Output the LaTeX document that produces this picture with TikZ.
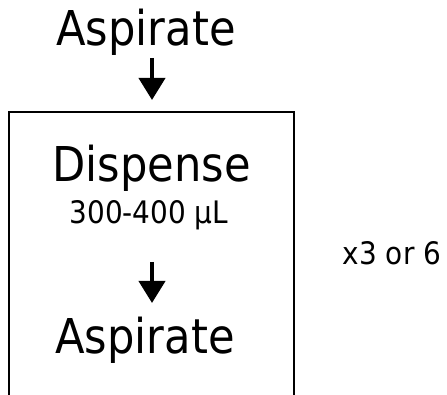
\documentclass[tikz,border=0pt]{standalone}
\usepackage{fontspec}
\setmainfont{DejaVu Sans Condensed}
\usetikzlibrary{arrows.meta}
\tikzset{
  big/.style={font=\fontsize{48}{58}\selectfont, anchor=base, inner sep=0pt},
  small/.style={font=\fontsize{31}{37}\selectfont, anchor=base, inner sep=0pt},
  arr/.style={line width=4pt, -{Triangle[width=26pt,length=22pt]}},
  boxline/.style={line width=1.3pt}
}
\begin{document}
\begin{tikzpicture}[x=1pt,y=-1pt]
\useasboundingbox (0,0) rectangle (447,395);
\node[big] (asp1) at (146,46) {Aspirate};
\node[big] (disp) at (151.5,182) {Dispense};
\node[small] (vol) at (149,224) {300-400 µL};
\node[big] (asp2) at (145,353) {Aspirate};
\node[small] (rep) at (392,265) {x3 or 6};
\coordinate (a1s) at (152,58);
\coordinate (a1e) at (152,100);
\coordinate (a2s) at (152,262);
\coordinate (a2e) at (152,303);
\draw[arr] (a1s) -- (a1e);
\draw[arr] (a2s) -- (a2e);
\draw[boxline] (9,395) -- (9,112) -- (294,112) -- (294,395);
\end{tikzpicture}
\end{document}
